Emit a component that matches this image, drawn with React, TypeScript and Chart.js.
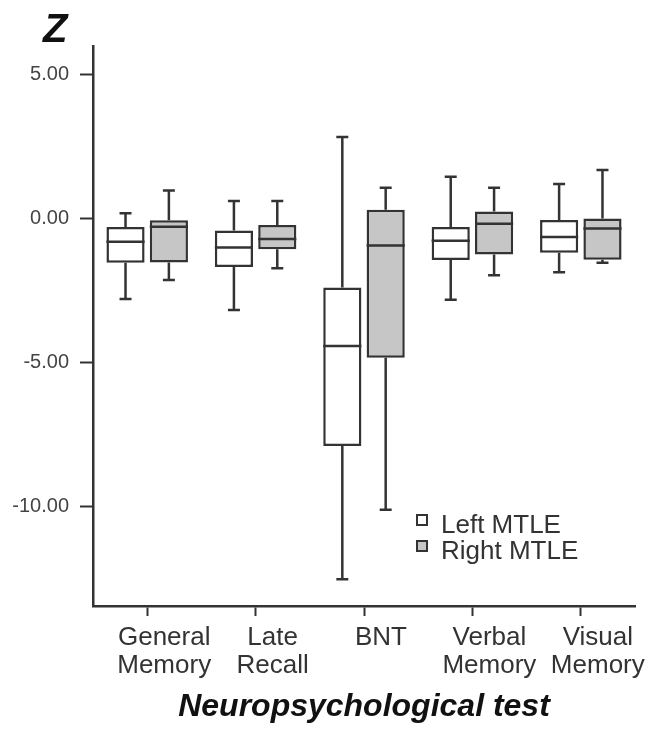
import React, { useEffect, useRef } from 'react';
import { Chart, registerables } from 'chart.js';

Chart.register(...registerables);

const FAMILY = "'Liberation Sans', Arial, Helvetica, sans-serif";
const LINE = '#333333';
const LEFT_FILL = '#ffffff';
const RIGHT_FILL = '#c6c6c6';

const categories: (string | string[])[] = [
  ['General', 'Memory'],
  ['Late', 'Recall'],
  'BNT',
  ['Verbal', 'Memory'],
  ['Visual', 'Memory'],
];
const seriesNames = ['Left MTLE', 'Right MTLE'];

const leftMin = [-2.79, -3.17, -12.52, -2.81, -1.86];
const leftQ1 = [-1.53, -1.68, -7.89, -1.43, -1.18];
const leftMedian = [-0.8, -1.0, -4.42, -0.76, -0.63];
const leftQ3 = [-0.29, -0.41, -2.39, -0.29, -0.04];
const leftMax = [0.19, 0.62, 2.84, 1.46, 1.21];

const rightMin = [-2.13, -1.72, -10.11, -1.96, -1.53];
const rightQ1 = [-1.52, -1.06, -4.83, -1.24, -1.42];
const rightMedian = [-0.28, -0.7, -0.93, -0.17, -0.34];
const rightQ3 = [-0.05, -0.22, 0.31, 0.25, 0.01];
const rightMax = [0.98, 0.62, 1.08, 1.08, 1.69];

const yTicks = [-10, -5, 0, 5];
const yMin = -13.45;
const yMax = 6.0;

const whiskerStats = [
  { min: leftMin, median: leftMedian, max: leftMax },
  { min: rightMin, median: rightMedian, max: rightMax },
];

const boxPlugin = {
  id: 'boxWhiskers',
  afterDatasetsDraw(chart: any) {
    const ctx = chart.ctx;
    const ys = chart.scales.y;
    ctx.save();
    ctx.strokeStyle = LINE;
    ctx.lineWidth = 2.5;
    ctx.lineCap = 'butt';
    chart.data.datasets.forEach((ds: any, di: number) => {
      const meta = chart.getDatasetMeta(di);
      const st = whiskerStats[di];
      meta.data.forEach((bar: any, i: number) => {
        const { x, width } = bar.getProps(['x', 'width'], true);
        const [lo, hi] = ds.data[i];
        const yLo = ys.getPixelForValue(lo);
        const yHi = ys.getPixelForValue(hi);
        const yMinP = ys.getPixelForValue(st.min[i]);
        const yMaxP = ys.getPixelForValue(st.max[i]);
        const yMed = ys.getPixelForValue(st.median[i]);
        const cap = 6;
        ctx.beginPath();
        ctx.moveTo(x, yHi);
        ctx.lineTo(x, yMaxP);
        ctx.moveTo(x - cap, yMaxP);
        ctx.lineTo(x + cap, yMaxP);
        ctx.moveTo(x, yLo);
        ctx.lineTo(x, yMinP);
        ctx.moveTo(x - cap, yMinP);
        ctx.lineTo(x + cap, yMinP);
        ctx.moveTo(x - width / 2, yMed);
        ctx.lineTo(x + width / 2, yMed);
        ctx.stroke();
      });
    });
    ctx.restore();
  },
};

const decorPlugin = {
  id: 'decor',
  afterDraw(chart: any) {
    const ctx = chart.ctx;
    const area = chart.chartArea;
    ctx.save();
    ctx.fillStyle = '#111';
    ctx.font = `italic bold 40px ${FAMILY}`;
    ctx.textAlign = 'left';
    ctx.textBaseline = 'alphabetic';
    ctx.fillText('Z', area.left - 50, area.top - 4);
    const lx = area.left + 324;
    const ly = area.top + 469;
    const fills = [LEFT_FILL, RIGHT_FILL];
    ctx.font = `26px ${FAMILY}`;
    seriesNames.forEach((name, k) => {
      const ry = ly + k * 26;
      ctx.fillStyle = fills[k];
      ctx.fillRect(lx, ry, 10, 10);
      ctx.strokeStyle = LINE;
      ctx.lineWidth = 2;
      ctx.strokeRect(lx, ry, 10, 10);
      ctx.fillStyle = '#333';
      ctx.fillText(name, lx + 24, ry + 18);
    });
    ctx.restore();
  },
};

export default function App() {
  const canvasRef = useRef<HTMLCanvasElement | null>(null);

  useEffect(() => {
    if (!canvasRef.current) return;
    Chart.defaults.font.family = FAMILY;
    const chart = new Chart(canvasRef.current, {
      type: 'bar',
      data: {
        labels: categories,
        datasets: [
          {
            label: seriesNames[0],
            data: leftQ1.map((q1, i) => [q1, leftQ3[i]]),
            backgroundColor: LEFT_FILL,
            borderColor: LINE,
            borderWidth: 2.5,
            borderSkipped: false,
          },
          {
            label: seriesNames[1],
            data: rightQ1.map((q1, i) => [q1, rightQ3[i]]),
            backgroundColor: RIGHT_FILL,
            borderColor: LINE,
            borderWidth: 2.5,
            borderSkipped: false,
          },
        ] as any,
      },
      options: {
        responsive: false,
        animation: false,
        devicePixelRatio: 1,
        categoryPercentage: 0.8,
        barPercentage: 0.88,
        layout: { padding: { top: 46, right: 22, bottom: 0, left: 0 } },
        plugins: {
          legend: { display: false },
          tooltip: { enabled: false },
          title: { display: false },
        },
        scales: {
          x: {
            afterFit: (s: any) => {
              s.height = 123;
            },
            ticks: {
              font: { size: 26, family: FAMILY, lineHeight: 1.08 },
              color: '#333',
              padding: 8,
              labelOffset: 17,
              maxRotation: 0,
              minRotation: 0,
              autoSkip: false,
            },
            grid: {
              offset: false,
              drawOnChartArea: false,
              drawTicks: true,
              tickLength: 10,
              tickWidth: 2,
              tickColor: LINE,
            },
            border: { display: true, color: LINE, width: 2.5 },
            title: {
              display: true,
              text: 'Neuropsychological test',
              font: { size: 32, weight: 'bold', style: 'italic', family: FAMILY, lineHeight: 1.2 },
              color: '#111',
              padding: { top: 0, bottom: 3 },
            },
          },
          y: {
            min: yMin,
            max: yMax,
            afterBuildTicks: (s: any) => {
              s.ticks = yTicks.map((v) => ({ value: v }));
            },
            afterFit: (s: any) => {
              s.width = 93;
            },
            ticks: {
              callback: (v: any) => Number(v).toFixed(2),
              font: { size: 20, family: FAMILY },
              color: '#444',
              padding: 11,
            },
            grid: {
              drawOnChartArea: false,
              drawTicks: true,
              tickLength: 13,
              tickWidth: 2,
              tickColor: LINE,
            },
            border: { display: true, color: LINE, width: 2.5 },
          },
        },
      } as any,
      plugins: [boxPlugin, decorPlugin],
    });
    return () => chart.destroy();
  }, []);

  return (
    <div style={{ position: 'fixed', left: 0, top: 0, width: 657, height: 729, background: '#fff' }}>
      <canvas ref={canvasRef} width={657} height={729} />
    </div>
  );
}
